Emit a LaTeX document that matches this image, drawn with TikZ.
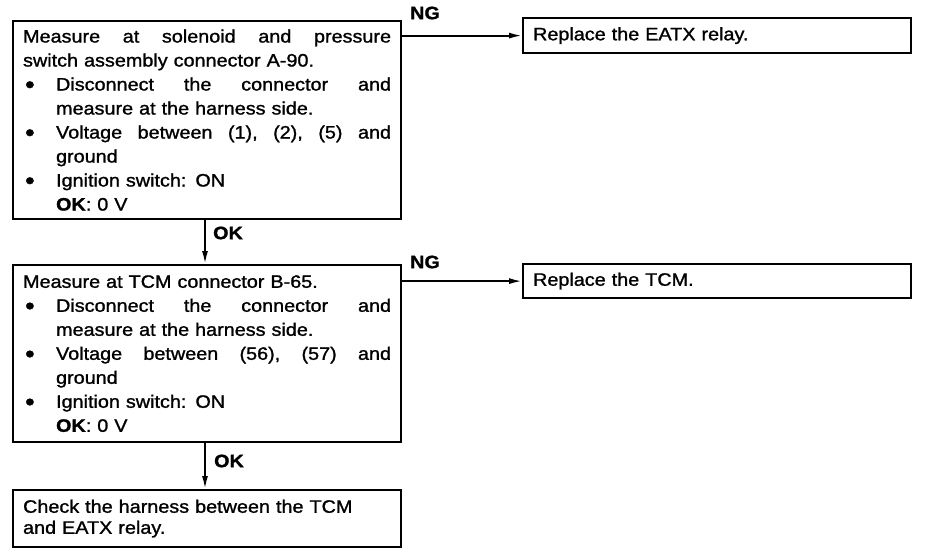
\documentclass[tikz,border=0pt]{standalone}
\usepackage{fontspec}
\setmainfont{Liberation Sans}[FakeStretch=1.1, FakeBold=1.2]
\usetikzlibrary{arrows.meta}
\newcommand{\bul}{\makebox[33pt][l]{\hspace*{2pt}\raisebox{-2.5pt}{\fontsize{25}{24}\selectfont\textbullet}}}
\newcommand{\ind}{\hspace*{33pt}}
\newcommand{\jline}[2]{\hbox to #1{#2}}
\begin{document}
\begin{tikzpicture}[x=1pt,y=-1pt,
  box/.style={draw, line width=2.2pt, anchor=north west, inner xsep=10pt, inner ysep=0pt,
    text width=368pt, align=left, font=\fontsize{18}{24}\selectfont},
  conn/.style={line width=1.8pt, -{Latex[length=13pt,width=6pt]}},
  lbl/.style={font=\bfseries\fontsize{18}{20}\selectfont, inner sep=0pt}]
\useasboundingbox[fill=white] (0,0) rectangle (928,554);

\node[box, minimum height=198pt] (b1) at (12,20) {%
\jline{368pt}{Measure\hfill at\hfill solenoid\hfill and\hfill pressure}\\
switch assembly connector A-90.\\
\bul\jline{335pt}{Disconnect\hfill the\hfill connector\hfill and}\\
\ind measure at the harness side.\\
\bul\jline{335pt}{Voltage\hfill between\hfill (1),\hfill (2),\hfill (5)\hfill and}\\
\ind ground\\
\bul Ignition switch: ON\\
\ind\textbf{OK}: 0 V};

\node[box, minimum height=35pt] (b2) at (522,17) {Replace the EATX relay.};

\node[box, minimum height=177pt] (b3) at (12,264) {%
Measure at TCM connector B-65.\\
\bul\jline{335pt}{Disconnect\hfill the\hfill connector\hfill and}\\
\ind measure at the harness side.\\
\bul\jline{335pt}{Voltage\hfill between\hfill (56),\hfill (57)\hfill and}\\
\ind ground\\
\bul Ignition switch: ON\\
\ind\textbf{OK}: 0 V};

\node[box, minimum height=34pt] (b4) at (522,263) {Replace the TCM.};

\node[box, minimum height=57pt, font=\fontsize{18}{21}\selectfont] (b5) at (12,489) {%
Check the harness between the TCM\\
and EATX relay.};

\draw[conn] (b2.west -| b1.east) -- (b2.west);
\draw[conn] (b4.west -| b3.east) -- (b4.west);
\draw[conn] ([xshift=193pt]b1.south west) -- ([xshift=193pt]b3.north west);
\draw[conn] ([xshift=193pt]b3.south west) -- ([xshift=193pt]b5.north west);

\node[lbl] (ng1) at (425,13) {NG};
\node[lbl] (ng2) at (425,262) {NG};
\node[lbl] (ok1) at (228,233) {OK};
\node[lbl] (ok2) at (229,461) {OK};
\end{tikzpicture}
\end{document}
